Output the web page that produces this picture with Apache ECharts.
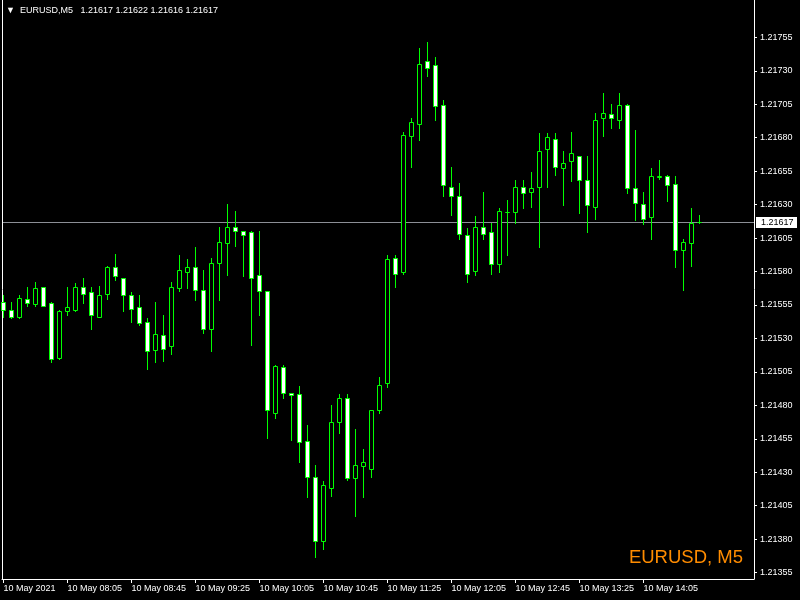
<!DOCTYPE html>
<html><head><meta charset="utf-8">
<script src="https://cdn.jsdelivr.net/npm/echarts@6/dist/echarts.min.js"></script>
<style>html,body{margin:0;padding:0;background:#000}#c{width:800px;height:600px}</style>
</head><body><div id="c"></div>
<script>
const symbol = 'EURUSD';
const period = 'M5';
const opens = [1.21557,1.21551,1.21546,1.21559,1.21555,1.21568,1.21556,1.21515,1.21550,1.21551,
1.21568,1.21564,1.21546,1.21563,1.21583,1.21575,1.21562,1.21553,1.21542,1.21521,
1.21532,1.21524,1.21567,1.21579,1.21583,1.21566,1.21537,1.21586,1.21601,1.21613,
1.21610,1.21609,1.21577,1.21565,1.21474,1.21508,1.21489,1.21488,1.21453,1.21426,
1.21378,1.21418,1.21467,1.21485,1.21425,1.21434,1.21432,1.21476,1.21496,1.21590,
1.21579,1.21681,1.21690,1.21737,1.21734,1.21704,1.21643,1.21636,1.21607,1.21580,
1.21613,1.21609,1.21585,1.21624,1.21624,1.21643,1.21639,1.21643,1.21671,1.21679,
1.21657,1.21662,1.21666,1.21648,1.21628,1.21694,1.21697,1.21693,1.21704,1.21642,
1.21630,1.21620,1.21650,1.21651,1.21645,1.21596,1.21601,1.21617];
const highs = [1.21562,1.21557,1.21562,1.21568,1.21572,1.21568,1.21557,1.21551,1.21568,1.21571,
1.21575,1.21568,1.21569,1.21584,1.21593,1.21575,1.21564,1.21562,1.21545,1.21557,
1.21547,1.21572,1.21592,1.21589,1.21598,1.21581,1.21590,1.21613,1.21630,1.21625,
1.21610,1.21610,1.21610,1.21565,1.21510,1.21510,1.21489,1.21494,1.21465,1.21435,
1.21423,1.21480,1.21488,1.21488,1.21462,1.21447,1.21476,1.21501,1.21592,1.21592,
1.21684,1.21694,1.21747,1.21751,1.21740,1.21708,1.21658,1.21646,1.21612,1.21621,
1.21639,1.21616,1.21627,1.21633,1.21648,1.21648,1.21654,1.21683,1.21683,1.21683,
1.21670,1.21684,1.21666,1.21666,1.21698,1.21713,1.21705,1.21713,1.21705,1.21685,
1.21639,1.21657,1.21663,1.21652,1.21651,1.21604,1.21627,1.21622];
const lows = [1.21546,1.21545,1.21545,1.21554,1.21554,1.21554,1.21512,1.21514,1.21547,1.21550,
1.21556,1.21537,1.21546,1.21559,1.21573,1.21550,1.21542,1.21540,1.21507,1.21512,
1.21513,1.21518,1.21565,1.21567,1.21558,1.21534,1.21520,1.21558,1.21577,1.21599,
1.21576,1.21525,1.21547,1.21455,1.21470,1.21485,1.21454,1.21437,1.21411,1.21366,
1.21372,1.21412,1.21459,1.21424,1.21397,1.21411,1.21426,1.21474,1.21493,1.21568,
1.21578,1.21658,1.21678,1.21726,1.21693,1.21636,1.21622,1.21604,1.21572,1.21577,
1.21604,1.21578,1.21579,1.21592,1.21616,1.21627,1.21628,1.21598,1.21643,1.21652,
1.21629,1.21647,1.21623,1.21609,1.21619,1.21681,1.21687,1.21687,1.21638,1.21618,
1.21615,1.21604,1.21649,1.21632,1.21583,1.21566,1.21584,1.21616];
const closes = [1.21551,1.21546,1.21560,1.21556,1.21567,1.21554,1.21514,1.21550,1.21553,1.21568,
1.21563,1.21547,1.21562,1.21583,1.21576,1.21562,1.21552,1.21541,1.21520,1.21533,
1.21522,1.21568,1.21581,1.21583,1.21566,1.21537,1.21586,1.21602,1.21613,1.21610,
1.21607,1.21575,1.21565,1.21476,1.21509,1.21489,1.21487,1.21452,1.21426,1.21378,
1.21420,1.21467,1.21485,1.21425,1.21435,1.21437,1.21476,1.21495,1.21589,1.21578,
1.21682,1.21691,1.21735,1.21732,1.21703,1.21644,1.21636,1.21608,1.21578,1.21613,
1.21608,1.21585,1.21625,1.21624,1.21643,1.21638,1.21642,1.21670,1.21680,1.21658,
1.21661,1.21668,1.21648,1.21629,1.21693,1.21698,1.21694,1.21704,1.21642,1.21631,
1.21619,1.21651,1.21651,1.21644,1.21596,1.21602,1.21616,1.21617];
const timeTickIndex = [0,8,16,24,32,40,48,56,64,72,80];
const timeTickLabels = ['10 May 2021','10 May 08:05','10 May 08:45','10 May 09:25','10 May 10:05',
  '10 May 10:45','10 May 11:25','10 May 12:05','10 May 12:45','10 May 13:25','10 May 14:05'];
const priceTicks = [1.21355,1.21380,1.21405,1.21430,1.21455,1.21480,1.21505,1.21530,1.21555,
  1.21580,1.21605,1.21630,1.21655,1.21680,1.21705,1.21730,1.21755];
const priceMin = 1.2135027, priceMax = 1.2178287;

const last = opens.length - 1;
const currentPrice = closes[last];
const FONT = "'Liberation Sans', 'DejaVu Sans', sans-serif";
const GREEN = '#00ff00';

const data = opens.map((o, i) => [i, o, closes[i], lows[i], highs[i]]);

function renderCandle(params, api) {
  const i = api.value(0);
  const o = api.value(1), c = api.value(2), l = api.value(3), h = api.value(4);
  const pO = api.coord([i, o]), pC = api.coord([i, c]);
  const pL = api.coord([i, l]), pH = api.coord([i, h]);
  const xi = Math.round(pO[0] - 0.5);
  const yH = Math.round(pH[1] - 0.5), yL = Math.round(pL[1] - 0.5);
  const yT = Math.round(Math.min(pO[1], pC[1]) - 0.5);
  const yB = Math.round(Math.max(pO[1], pC[1]) - 0.5);
  const bull = c > o;
  return {
    type: 'group',
    children: [
      { type: 'rect', shape: { x: xi, y: yH, width: 1, height: yL - yH + 1 },
        style: { fill: GREEN } },
      { type: 'rect', shape: { x: xi - 2 + 0.5, y: yT + 0.5, width: 4, height: yB - yT },
        style: { fill: bull ? '#000' : '#fff', stroke: GREEN, lineWidth: 1 } }
    ]
  };
}

function renderPriceLine(params, api) {
  const cs = params.coordSys;
  const p = api.coord([api.value(0), api.value(1)]);
  const yi = Math.round(p[1] - 0.5);
  const x0 = cs.x + 1, x1 = cs.x + cs.width;
  return {
    type: 'group',
    children: [
      { type: 'rect', shape: { x: x0, y: yi, width: x1 - x0, height: 1 },
        style: { fill: '#8c8f96' } },
      { type: 'rect', shape: { x: x1 + 2, y: yi - 5, width: 41, height: 11 },
        style: { fill: '#fff' } },
      { type: 'text', x: x1 + 7, y: yi + 0.5,
        style: { text: api.value(1).toFixed(5), fill: '#000', font: '9px ' + FONT,
          verticalAlign: 'middle', align: 'left' } }
    ]
  };
}

const chart = echarts.init(document.getElementById('c'), null, { renderer: 'canvas' });
chart.setOption({
  backgroundColor: '#000',
  animation: false,
  title: [
    { text: '▼  ' + symbol + ',' + period + '   ' +
        [opens[last], highs[last], lows[last], closes[last]].map(v => v.toFixed(5)).join(' '),
      left: 6, top: 6, padding: 0,
      textStyle: { color: '#fff', fontSize: 9, fontWeight: 'normal', fontFamily: FONT } },
    { text: symbol + ', ' + period, right: 57, top: 548, padding: 0,
      textStyle: { color: '#ff8c00', fontSize: 18.5, fontWeight: 'normal', fontFamily: FONT } }
  ],
  grid: { left: 2, right: 46, top: 0, bottom: 21, show: false },
  xAxis: {
    type: 'value', min: -0.1875, max: 93.8125, position: 'bottom',
    axisLine: { show: true, onZero: false, lineStyle: { color: '#fff', width: 1 } },
    axisTick: { show: true, length: 4, inside: false, customValues: timeTickIndex,
      lineStyle: { color: '#fff' } },
    axisLabel: { show: true, customValues: timeTickIndex, align: 'left', margin: 5,
      color: '#fff', fontSize: 9, fontFamily: FONT,
      formatter: v => timeTickLabels[timeTickIndex.indexOf(v)] || '' },
    splitLine: { show: false }
  },
  yAxis: [
    { type: 'value', position: 'right', min: priceMin, max: priceMax, scale: true,
      axisLine: { show: true, onZero: false, lineStyle: { color: '#fff', width: 1 } },
      axisTick: { show: true, length: 3, inside: false, customValues: priceTicks,
        lineStyle: { color: '#fff' } },
      axisLabel: { show: true, customValues: priceTicks, margin: 6, color: '#fff',
        fontSize: 9, fontFamily: FONT, formatter: v => v.toFixed(5) },
      splitLine: { show: false } },
    { type: 'value', position: 'left', min: priceMin, max: priceMax, scale: true,
      axisLine: { show: true, onZero: false, lineStyle: { color: '#fff', width: 1 } },
      axisTick: { show: false }, axisLabel: { show: false }, splitLine: { show: false } }
  ],
  series: [{
    type: 'custom',
    renderItem: renderPriceLine,
    data: [[last, currentPrice]],
    encode: { x: 0, y: 1 },
    silent: true,
    z: 1
  }, {
    type: 'custom',
    renderItem: renderCandle,
    data: data,
    encode: { x: 0, y: [1, 2, 3, 4] },
    silent: true,
    z: 2
  }]
});
</script></body></html>
